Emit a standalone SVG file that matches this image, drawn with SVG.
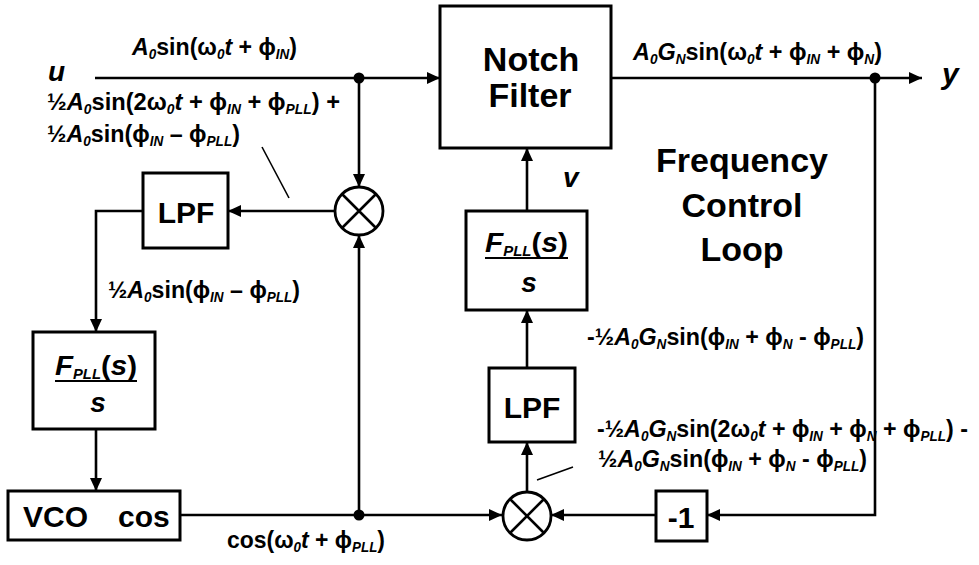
<svg xmlns="http://www.w3.org/2000/svg" width="979" height="565" viewBox="0 0 979 565">
<defs>
<style>
.t{font-family:"Liberation Sans","DejaVu Sans",Arial,sans-serif;font-weight:bold;fill:#000}
.eq{font-size:24px}
.big{font-size:34px}
.lab{font-size:30px}
.i{font-style:italic}
.sub{font-size:14px;font-style:italic}
.ln{stroke:#000;stroke-width:2.6;fill:none}
.box{fill:#fff;stroke:#000;stroke-width:3}
.dot{fill:#000}
</style>
<marker id="ar" markerUnits="userSpaceOnUse" markerWidth="14" markerHeight="12" refX="13" refY="6" orient="auto">
<path d="M0,0 L13,6 L0,12 z" fill="#000"/>
</marker>
</defs>
<rect width="979" height="565" fill="#fff"/>

<g id="connectors">
<line class="ln" x1="95" y1="78" x2="440" y2="78" marker-end="url(#ar)"/>
<line class="ln" x1="359" y1="78" x2="359" y2="187" marker-end="url(#ar)"/>
<line class="ln" x1="335" y1="211" x2="228" y2="211" marker-end="url(#ar)"/>
<polyline class="ln" points="143,211 96,211 96,332" marker-end="url(#ar)"/>
<line class="ln" x1="96" y1="429" x2="96" y2="491" marker-end="url(#ar)"/>
<line class="ln" x1="180" y1="515" x2="502" y2="515" marker-end="url(#ar)"/>
<line class="ln" x1="359" y1="515" x2="359" y2="235" marker-end="url(#ar)"/>
<line class="ln" x1="611" y1="78" x2="922" y2="78" marker-end="url(#ar)"/>
<polyline class="ln" points="875,78 875,515 707,515" marker-end="url(#ar)"/>
<line class="ln" x1="656" y1="515" x2="551" y2="515" marker-end="url(#ar)"/>
<line class="ln" x1="527" y1="491" x2="527" y2="442" marker-end="url(#ar)"/>
<line class="ln" x1="527" y1="368" x2="527" y2="310" marker-end="url(#ar)"/>
<line class="ln" x1="527" y1="211" x2="527" y2="148" marker-end="url(#ar)"/>
<circle class="dot" cx="359" cy="78" r="5.5"/>
<circle class="dot" cx="359" cy="515" r="5.5"/>
<circle class="dot" cx="875" cy="78" r="5.5"/>
<line stroke="#000" stroke-width="1.6" x1="262" y1="147" x2="289" y2="198"/>
<line stroke="#000" stroke-width="1.6" x1="537" y1="480" x2="573" y2="467"/>
</g>

<g id="notch">
<rect class="box" x="440" y="6" width="171" height="142"/>
<text class="t big" x="531" y="71" text-anchor="middle">Notch</text>
<text class="t big" x="530" y="107" text-anchor="middle">Filter</text>
</g>

<g id="lpf1">
<rect class="box" x="143" y="173" width="85" height="75"/>
<text class="t lab" x="186" y="223" text-anchor="middle">LPF</text>
</g>

<g id="lpf2">
<rect class="box" x="489" y="368" width="86" height="74"/>
<text class="t lab" x="532" y="418" text-anchor="middle">LPF</text>
</g>

<g id="fpll1">
<rect class="box" x="33" y="332" width="122" height="97"/>
<text class="t" font-size="28" x="55" y="375" textLength="82" lengthAdjust="spacingAndGlyphs"><tspan class="i">F</tspan><tspan class="sub" dy="4">PLL</tspan><tspan dy="-4">(</tspan><tspan class="i">s</tspan>)</text>
<line stroke="#000" stroke-width="2.2" x1="55" y1="381" x2="137" y2="381"/>
<text class="t i" font-size="28" x="98" y="412" text-anchor="middle">s</text>
</g>

<g id="fpll2">
<rect class="box" x="466" y="211" width="121" height="99"/>
<text class="t" font-size="28" x="485" y="252" textLength="83" lengthAdjust="spacingAndGlyphs"><tspan class="i">F</tspan><tspan class="sub" dy="4">PLL</tspan><tspan dy="-4">(</tspan><tspan class="i">s</tspan>)</text>
<line stroke="#000" stroke-width="2.2" x1="485" y1="258" x2="568" y2="258"/>
<text class="t i" font-size="28" x="529" y="292" text-anchor="middle">s</text>
</g>

<g id="vco">
<rect class="box" x="8" y="491" width="172" height="49"/>
<text class="t lab" x="23" y="527">VCO</text>
<text class="t lab" x="118" y="527">cos</text>
</g>

<g id="neg1">
<rect class="box" x="656" y="491" width="51" height="50"/>
<text class="t lab" x="681" y="528" text-anchor="middle">-1</text>
</g>

<g id="mixer1">
<circle cx="359" cy="211" r="24" fill="#fff" stroke="#000" stroke-width="2.8"/>
<path d="M342,194 L376,228 M376,194 L342,228" stroke="#000" stroke-width="2.6"/>
</g>

<g id="mixer2">
<circle cx="527" cy="516" r="24" fill="#fff" stroke="#000" stroke-width="2.8"/>
<path d="M510,499 L544,533 M544,499 L510,533" stroke="#000" stroke-width="2.6"/>
</g>

<g id="labels">
<text class="t i" font-size="28" x="48" y="81">u</text>
<text class="t i" font-size="30" x="942" y="84">y</text>
<text class="t i" font-size="28" x="563" y="187">v</text>
<text class="t big" x="742" y="172" text-anchor="middle">Frequency</text>
<text class="t big" x="742" y="217" text-anchor="middle">Control</text>
<text class="t big" x="742" y="261" text-anchor="middle">Loop</text>

<text class="t eq" x="132" y="55" textLength="165" lengthAdjust="spacingAndGlyphs"><tspan class="i">A</tspan><tspan class="sub" dy="4">0</tspan><tspan dy="-4">sin(ω</tspan><tspan class="sub" dy="4">0</tspan><tspan class="i" dy="-4">t</tspan> + ϕ<tspan class="sub" dy="4">IN</tspan><tspan dy="-4">)</tspan></text>

<text class="t eq" x="47" y="110" textLength="293" lengthAdjust="spacingAndGlyphs">½<tspan class="i">A</tspan><tspan class="sub" dy="4">0</tspan><tspan dy="-4">sin(2ω</tspan><tspan class="sub" dy="4">0</tspan><tspan class="i" dy="-4">t</tspan> + ϕ<tspan class="sub" dy="4">IN</tspan><tspan dy="-4"> + ϕ</tspan><tspan class="sub" dy="4">PLL</tspan><tspan dy="-4">) +</tspan></text>

<text class="t eq" x="47" y="142" textLength="193" lengthAdjust="spacingAndGlyphs">½<tspan class="i">A</tspan><tspan class="sub" dy="4">0</tspan><tspan dy="-4">sin(ϕ</tspan><tspan class="sub" dy="4">IN</tspan><tspan dy="-4"> – ϕ</tspan><tspan class="sub" dy="4">PLL</tspan><tspan dy="-4">)</tspan></text>

<text class="t eq" x="108" y="298" textLength="192" lengthAdjust="spacingAndGlyphs">½<tspan class="i">A</tspan><tspan class="sub" dy="4">0</tspan><tspan dy="-4">sin(ϕ</tspan><tspan class="sub" dy="4">IN</tspan><tspan dy="-4"> – ϕ</tspan><tspan class="sub" dy="4">PLL</tspan><tspan dy="-4">)</tspan></text>

<text class="t eq" x="227" y="548" textLength="158" lengthAdjust="spacingAndGlyphs">cos(ω<tspan class="sub" dy="4">0</tspan><tspan class="i" dy="-4">t</tspan> + ϕ<tspan class="sub" dy="4">PLL</tspan><tspan dy="-4">)</tspan></text>

<text class="t eq" x="633" y="60" textLength="249" lengthAdjust="spacingAndGlyphs"><tspan class="i">A</tspan><tspan class="sub" dy="4">0</tspan><tspan class="i" dy="-4">G</tspan><tspan class="sub" dy="4">N</tspan><tspan dy="-4">sin(ω</tspan><tspan class="sub" dy="4">0</tspan><tspan class="i" dy="-4">t</tspan> + ϕ<tspan class="sub" dy="4">IN</tspan><tspan dy="-4"> + ϕ</tspan><tspan class="sub" dy="4">N</tspan><tspan dy="-4">)</tspan></text>

<text class="t eq" x="587" y="345" textLength="277" lengthAdjust="spacingAndGlyphs">-½<tspan class="i">A</tspan><tspan class="sub" dy="4">0</tspan><tspan class="i" dy="-4">G</tspan><tspan class="sub" dy="4">N</tspan><tspan dy="-4">sin(ϕ</tspan><tspan class="sub" dy="4">IN</tspan><tspan dy="-4"> + ϕ</tspan><tspan class="sub" dy="4">N</tspan><tspan dy="-4"> - ϕ</tspan><tspan class="sub" dy="4">PLL</tspan><tspan dy="-4">)</tspan></text>

<text class="t eq" x="597" y="437" textLength="371" lengthAdjust="spacingAndGlyphs">-½<tspan class="i">A</tspan><tspan class="sub" dy="4">0</tspan><tspan class="i" dy="-4">G</tspan><tspan class="sub" dy="4">N</tspan><tspan dy="-4">sin(2ω</tspan><tspan class="sub" dy="4">0</tspan><tspan class="i" dy="-4">t</tspan> + ϕ<tspan class="sub" dy="4">IN</tspan><tspan dy="-4"> + ϕ</tspan><tspan class="sub" dy="4">N</tspan><tspan dy="-4"> + ϕ</tspan><tspan class="sub" dy="4">PLL</tspan><tspan dy="-4">) -</tspan></text>

<text class="t eq" x="598" y="467" textLength="269" lengthAdjust="spacingAndGlyphs">½<tspan class="i">A</tspan><tspan class="sub" dy="4">0</tspan><tspan class="i" dy="-4">G</tspan><tspan class="sub" dy="4">N</tspan><tspan dy="-4">sin(ϕ</tspan><tspan class="sub" dy="4">IN</tspan><tspan dy="-4"> + ϕ</tspan><tspan class="sub" dy="4">N</tspan><tspan dy="-4"> - ϕ</tspan><tspan class="sub" dy="4">PLL</tspan><tspan dy="-4">)</tspan></text>
</g>
</svg>
